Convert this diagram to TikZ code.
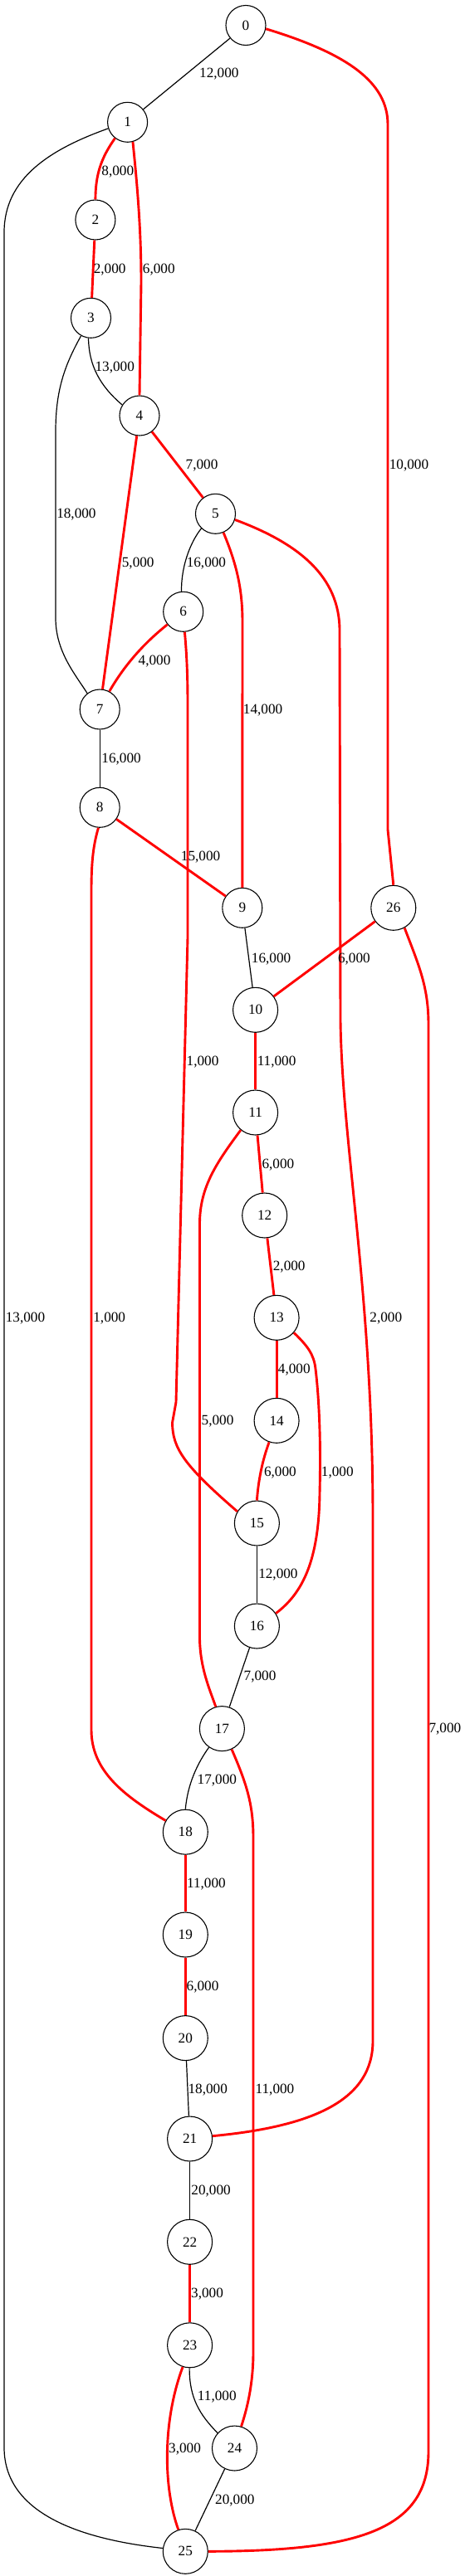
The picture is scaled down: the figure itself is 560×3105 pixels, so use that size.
\documentclass[tikz,border=0pt]{standalone}
\usepackage{fontspec}
\setmainfont{Liberation Serif}
\begin{document}
\begin{tikzpicture}[x=0.5pt,y=-0.5pt,
  nd/.style={circle,draw=black,line width=0.55pt,fill=white,minimum size=24pt,inner sep=0pt,font=\fontsize{8.6}{10}\selectfont},
  ndw/.style={nd,minimum size=27pt},
  blk/.style={draw=black,line width=0.6pt},
  rd/.style={draw=red,line width=1.45pt},
  lbl/.style={inner sep=0pt,font=\fontsize{8.6}{10}\selectfont}]
\useasboundingbox (0,0) rectangle (560,3105);
% nodes
\node[nd]  (n0)  at (296,30.5) {0};
\node[nd]  (n1)  at (153.6,147.3) {1};
\node[nd]  (n2)  at (114.9,265) {2};
\node[nd]  (n3)  at (109.5,383.3) {3};
\node[nd]  (n4)  at (168,501) {4};
\node[nd]  (n5)  at (259.5,619.3) {5};
\node[nd]  (n6)  at (220.7,737.3) {6};
\node[nd]  (n7)  at (120.2,855) {7};
\node[nd]  (n8)  at (120.2,973.3) {8};
\node[nd]  (n9)  at (291.8,1094.3) {9};
\node[ndw] (n26) at (473.8,1094.3) {26};
\node[ndw] (n10) at (307.6,1217.3) {10};
\node[ndw] (n11) at (307.6,1341) {11};
\node[ndw] (n12) at (318.7,1465) {12};
\node[ndw] (n13) at (333.1,1588.3) {13};
\node[ndw] (n14) at (333.1,1712.3) {14};
\node[ndw] (n15) at (309.4,1836) {15};
\node[ndw] (n16) at (309.4,1960) {16};
\node[ndw] (n17) at (267.4,2083.6) {17};
\node[ndw] (n18) at (223.3,2208.2) {18};
\node[ndw] (n19) at (223.3,2332) {19};
\node[ndw] (n20) at (223.3,2456.6) {20};
\node[ndw] (n21) at (228.6,2578) {21};
\node[ndw] (n22) at (228.6,2702.3) {22};
\node[ndw] (n23) at (228.6,2826.8) {23};
\node[ndw] (n24) at (282.5,2951) {24};
\node[ndw] (n25) at (223.3,3075.3) {25};
% black edges
\draw[blk] (n0) -- (n1);
\draw[blk] (n1.198) .. controls (60,180) and (5,215) .. (5,280) -- (5,2950) .. controls (5,3035) and (110,3062) .. (n25.172);
\draw[blk] (n3.263) .. controls (107,440) and (120,465) .. (n4.148);
\draw[blk] (n3.241) .. controls (78,440) and (67,470) .. (67,520) -- (67,745) .. controls (67,785) and (90,812) .. (n7.128);
\draw[blk] (n5.226) .. controls (228,655) and (218,685) .. (n6.95);
\draw[blk] (n7) -- (n8);
\draw[blk] (n9) -- (n10);
\draw[blk] (n15) -- (n16);
\draw[blk] (n16) -- (n17);
\draw[blk] (n17.235) .. controls (238,2125) and (226,2150) .. (n18.north);
\draw[blk] (n20) -- (n21);
\draw[blk] (n21) -- (n22);
\draw[blk] (n23.269) .. controls (228,2890) and (240,2910) .. (n24.138);
\draw[blk] (n24) -- (n25);
% red edges
\draw[rd] (n0.350) .. controls (420,65) and (467,100) .. (467,150) -- (467,1000) -- (n26.north);
\draw[rd] (n1.232) .. controls (122,190) and (115,210) .. (n2.north);
\draw[rd] (n1.285) .. controls (166,230) and (170,280) .. (170,340) -- (n4.north);
\draw[rd] (n2) -- (n3);
\draw[rd] (n4) -- (n5);
\draw[rd] (n4) -- (n7);
\draw[rd] (n5.293) .. controls (285,680) and (292,710) .. (292,750) -- (n9.north);
\draw[rd] (n5.343) .. controls (360,655) and (409,695) .. (409,760) -- (410,1230) .. controls (412,1380) and (449,1560) .. (449,1830) -- (449,2460) .. controls (449,2530) and (380,2563) .. (n21.7);
\draw[rd] (n6.219) .. controls (170,778) and (148,805) .. (n7.62);
\draw[rd] (n6.274) .. controls (225,790) and (226,815) .. (226,850) -- (226,1130) -- (212,1690) -- (207.5,1715) .. controls (208,1745) and (220,1765) .. (n15.149);
\draw[rd] (n8) -- (n9);
\draw[rd] (n8.266) .. controls (112,1020) and (110,1040) .. (110,1075) -- (110,2085) .. controls (110,2135) and (150,2165) .. (n18.150);
\draw[rd] (n26) -- (n10);
\draw[rd] (n26.299) .. controls (505,1165) and (516,1190) .. (516,1235) -- (516,2955) .. controls (516,3050) and (430,3075) .. (n25.east);
\draw[rd] (n10) -- (n11);
\draw[rd] (n11) -- (n12);
\draw[rd] (n11.230) .. controls (262,1400) and (240.5,1430) .. (240.5,1475) -- (240.5,1975) .. controls (241,2010) and (252,2035) .. (n17.106);
\draw[rd] (n12) -- (n13);
\draw[rd] (n13) -- (n14);
\draw[rd] (n13.319) .. controls (370,1622) and (378,1632) .. (380,1650) .. controls (386,1700) and (386,1760) .. (385,1800) .. controls (384,1880) and (365,1920) .. (n16.34);
\draw[rd] (n14.251) .. controls (316,1760) and (311,1785) .. (n15.north);
\draw[rd] (n17.295) .. controls (297,2150) and (305,2175) .. (305,2215) -- (305,2835) .. controls (305,2875) and (297,2905) .. (n24.73);
\draw[rd] (n18) -- (n19);
\draw[rd] (n19) -- (n20);
\draw[rd] (n22) -- (n23);
\draw[rd] (n23.252) .. controls (195,2920) and (197,3000) .. (n25.108);
% labels
\node[lbl] (l01)   at (263.8,89.3)   {12,000};
\node[lbl] (l026)  at (492.5,561)    {10,000};
\node[lbl] (l12)   at (141.8,207.3)  {8,000};
\node[lbl] (l14)   at (191.3,325)    {6,000};
\node[lbl] (l125)  at (30.5,1589)    {13,000};
\node[lbl] (l23)   at (132.1,325)    {2,000};
\node[lbl] (l34)   at (138.2,443.3)  {13,000};
\node[lbl] (l37)   at (91.9,620)     {18,000};
\node[lbl] (l45)   at (243,561)      {7,000};
\node[lbl] (l47)   at (166.2,679)    {5,000};
\node[lbl] (l56)   at (248.4,679)    {16,000};
\node[lbl] (l59)   at (316.6,856)    {14,000};
\node[lbl] (l521)  at (464.8,1589)   {2,000};
\node[lbl] (l67)   at (186,796.7)    {4,000};
\node[lbl] (l615)  at (244,1280)     {1,000};
\node[lbl] (l78)   at (146.1,915)    {16,000};
\node[lbl] (l89)   at (241.6,1032.7) {15,000};
\node[lbl] (l818)  at (131.7,1589)   {1,000};
\node[lbl] (l910)  at (326.6,1156)   {16,000};
\node[lbl] (l2610) at (426.4,1156)   {6,000};
\node[lbl] (l2625) at (535.9,2084.4) {7,000};
\node[lbl] (l1011) at (333.1,1280)   {11,000};
\node[lbl] (l1112) at (334.9,1404)   {6,000};
\node[lbl] (l1117) at (262,1712.7)   {5,000};
\node[lbl] (l1213) at (348.2,1526.7) {2,000};
\node[lbl] (l1314) at (354.3,1651)   {4,000};
\node[lbl] (l1316) at (406.3,1775)   {1,000};
\node[lbl] (l1415) at (337.4,1775)   {6,000};
\node[lbl] (l1516) at (334.9,1897.7) {12,000};
\node[lbl] (l1617) at (313,2021.5)   {7,000};
\node[lbl] (l1718) at (261.3,2146.4) {17,000};
\node[lbl] (l1724) at (331,2519.4)   {11,000};
\node[lbl] (l1819) at (248.4,2271)   {11,000};
\node[lbl] (l1920) at (244,2394.8)   {6,000};
\node[lbl] (l2021) at (250.2,2519.4) {18,000};
\node[lbl] (l2122) at (254.1,2641.4) {20,000};
\node[lbl] (l2223) at (249.5,2765.3) {3,000};
\node[lbl] (l2324) at (261.3,2889.5) {11,000};
\node[lbl] (l2325) at (222.5,2951.8) {3,000};
\node[lbl] (l2425) at (282.8,3014.5) {20,000};
\end{tikzpicture}
\end{document}
